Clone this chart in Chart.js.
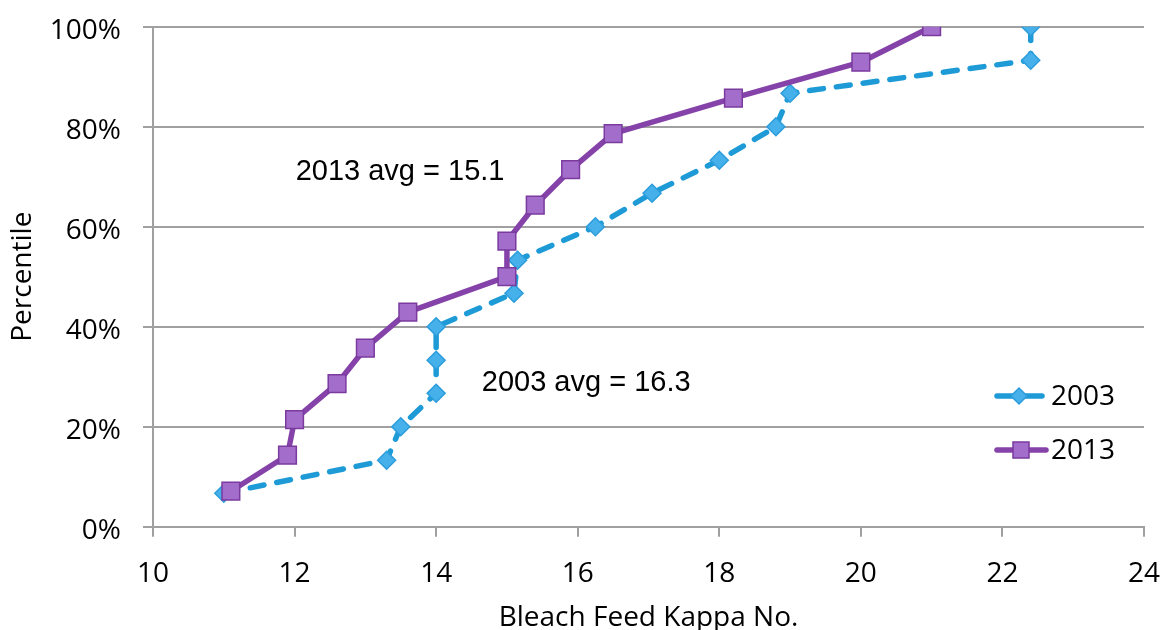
<!DOCTYPE html>
<html>
<head>
<meta charset="utf-8">
<script src="https://cdn.jsdelivr.net/npm/chart.js@4.4.1/dist/chart.umd.min.js"></script>
<style>
  html, body { margin: 0; padding: 0; background: #ffffff; }
  #wrap { width: 1162px; height: 630px; position: relative; }
</style>
</head>
<body>
<div id="wrap"><canvas id="c" width="1162" height="630"></canvas></div>
<script>
// ---- data ----
const seriesNames = ['2003', '2013'];
const kappa2003 = [11.0, 13.3, 13.5, 14.0, 14.0, 14.0, 15.1, 15.15, 16.25, 17.05, 18.0, 18.8, 19.0, 22.4, 22.4];
const pct2003   = [6.7, 13.3, 20.0, 26.7, 33.3, 40.0, 46.7, 53.3, 60.0, 66.7, 73.3, 80.0, 86.7, 93.3, 100];
const kappa2013 = [11.1, 11.9, 12.0, 12.6, 13.0, 13.6, 15.0, 15.0, 15.4, 15.9, 16.5, 18.2, 20.0, 21.0];
const pct2013   = [7.1, 14.3, 21.4, 28.6, 35.7, 42.9, 50.0, 57.1, 64.3, 71.4, 78.6, 85.7, 92.9, 100];
const xTicks = [10, 12, 14, 16, 18, 20, 22, 24];
const yTicks = [0, 20, 40, 60, 80, 100];
const annotationTexts = ['2013 avg = 15.1', '2003 avg = 16.3'];
const annotationAnchors = [[13.49, 70.9], [16.12, 28.7]];

const toPoints = (xs, ys) => xs.map((x, i) => ({ x: x, y: ys[i] }));

const C2003 = '#1e9bd7', C2013 = '#8543a9';
const TICK_FONT = { family: '"Open Sans", sans-serif', size: 28 };

const annotationPlugin = {
  id: 'annot',
  afterDatasetsDraw(chart) {
    const ctx = chart.ctx, xs = chart.scales.x, ys = chart.scales.y;
    ctx.save();
    ctx.font = '29px "Liberation Sans", Arial, sans-serif';
    ctx.fillStyle = '#000';
    ctx.textAlign = 'center';
    ctx.textBaseline = 'middle';
    annotationTexts.forEach((t, i) => {
      ctx.fillText(t, xs.getPixelForValue(annotationAnchors[i][0]), ys.getPixelForValue(annotationAnchors[i][1]));
    });
    ctx.restore();
  }
};

const legendPlugin = {
  id: 'customLegend',
  afterDraw(chart) {
    const ctx = chart.ctx;
    const items = [
      { name: seriesNames[0], color: C2003, fill: '#45b0ea', stroke: '#2c9ddc', shape: 'diamond', y: 396 },
      { name: seriesNames[1], color: C2013, fill: '#a36dcb', stroke: '#7a3a9e', shape: 'square', y: 450 }
    ];
    ctx.save();
    items.forEach(it => {
      ctx.strokeStyle = it.color;
      ctx.lineWidth = 5.5;
      ctx.lineCap = 'round';
      ctx.beginPath();
      ctx.moveTo(997, it.y);
      ctx.lineTo(it.shape === 'square' ? 1046 : 1042, it.y);
      ctx.stroke();
      ctx.fillStyle = it.fill;
      ctx.strokeStyle = it.stroke;
      ctx.lineWidth = 1.5;
      ctx.beginPath();
      if (it.shape === 'diamond') {
        const cx = 1019, r = 8;
        ctx.moveTo(cx, it.y - r); ctx.lineTo(cx + r, it.y); ctx.lineTo(cx, it.y + r); ctx.lineTo(cx - r, it.y); ctx.closePath();
      } else {
        const cx = 1021, h = 8;
        ctx.rect(cx - h, it.y - h, 2 * h, 2 * h);
      }
      ctx.fill(); ctx.stroke();
      ctx.fillStyle = '#000';
      ctx.font = '28px "Open Sans", sans-serif';
      ctx.textAlign = 'left';
      ctx.textBaseline = 'middle';
      ctx.fillText(it.name, 1051, it.y + 1);
    });
    ctx.restore();
  }
};

new Chart(document.getElementById('c'), {
  type: 'scatter',
  data: {
    datasets: [
      {
        label: seriesNames[0],
        data: toPoints(kappa2003, pct2003),
        showLine: true,
        order: 2,
        borderColor: C2003,
        borderWidth: 5.5,
        borderDash: [14, 13],
        borderCapStyle: 'round',
        borderJoinStyle: 'round',
        pointStyle: 'rectRot',
        pointRadius: 9,
        pointBackgroundColor: '#45b0ea',
        pointBorderColor: '#2c9ddc',
        pointBorderWidth: 1.5,
        tension: 0
      },
      {
        label: seriesNames[1],
        data: toPoints(kappa2013, pct2013),
        showLine: true,
        order: 1,
        borderColor: C2013,
        borderWidth: 5.5,
        borderJoinStyle: 'round',
        pointStyle: 'rect',
        pointRadius: 12.5,
        pointBackgroundColor: '#a36dcb',
        pointBorderColor: '#7a3a9e',
        pointBorderWidth: 1.5,
        tension: 0
      }
    ]
  },
  options: {
    responsive: false,
    animation: false,
    devicePixelRatio: 1,
    layout: { padding: { top: 26.7, right: 18, left: 0, bottom: 0 } },
    plugins: { legend: { display: false }, tooltip: { enabled: false } },
    scales: {
      x: {
        type: 'linear',
        min: xTicks[0], max: xTicks[xTicks.length - 1],
        afterBuildTicks: s => { s.ticks = xTicks.map(v => ({ value: v })); },
        afterFit: s => { s.height = 103.3; s.paddingLeft = 0; s.paddingRight = 0; },
        grid: { drawOnChartArea: false, drawTicks: true, tickLength: 10, color: '#a0a0a0', lineWidth: 2 },
        border: { display: true, color: '#a0a0a0', width: 2 },
        ticks: { color: '#000', font: TICK_FONT, padding: 21, maxRotation: 0 },
        title: { display: true, text: 'Bleach Feed Kappa No.', color: '#000', font: { family: '"Open Sans", sans-serif', size: 28, lineHeight: 1 }, padding: { top: 0, bottom: -2 } }
      },
      y: {
        type: 'linear',
        min: yTicks[0], max: yTicks[yTicks.length - 1],
        afterBuildTicks: s => { s.ticks = yTicks.map(v => ({ value: v })); },
        afterFit: s => { s.width = 153; s.paddingTop = 0; s.paddingBottom = 0; },
        grid: { drawOnChartArea: true, drawTicks: true, tickLength: 10, color: '#a0a0a0', lineWidth: 2 },
        border: { display: true, color: '#a0a0a0', width: 2 },
        ticks: { color: '#000', font: TICK_FONT, padding: 22, labelOffset: 4, callback: v => v + '%' },
        title: { display: true, text: 'Percentile', color: '#000', font: { family: '"Open Sans", sans-serif', size: 28, lineHeight: 1 }, padding: { top: 9, bottom: 0 } }
      }
    }
  },
  plugins: [annotationPlugin, legendPlugin]
});
</script>
</body>
</html>
